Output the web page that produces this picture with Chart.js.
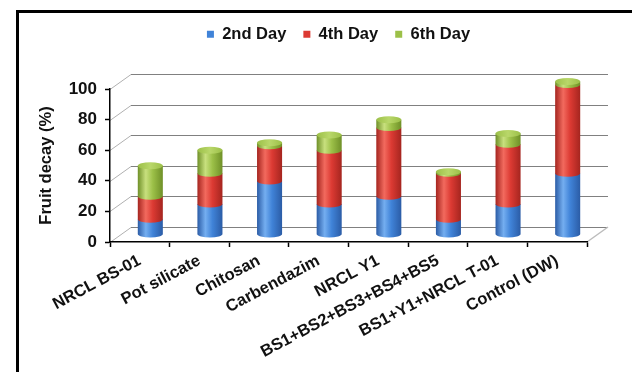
<!DOCTYPE html>
<html>
<head>
<meta charset="utf-8">
<script src="https://cdn.jsdelivr.net/npm/chart.js@4/dist/chart.umd.min.js"></script>
<style>
  html, body { margin: 0; padding: 0; background: #fff; }
  #wrap { position: relative; width: 632px; height: 372px; overflow: hidden; background: #fff; }
  #frame { position: absolute; left: 16px; top: 10px; width: 700px; height: 420px;
           border-left: 3px solid #000; border-top: 3px solid #000; box-sizing: border-box; }
  canvas { position: absolute; left: 0; top: 0; }
</style>
</head>
<body>
<div id="wrap">
  <div id="frame"></div>
  <canvas id="chart" width="632" height="372"></canvas>
</div>
<script>
// Fruit decay (%) per treatment, stacked by day of observation
const categories = ['NRCL BS-01', 'Pot silicate', 'Chitosan', 'Carbendazim', 'NRCL Y1',
                    'BS1+BS2+BS3+BS4+BS5', 'BS1+Y1+NRCL T-01', 'Control (DW)'];
const day2 = [10, 20, 35, 20, 25, 10, 20, 40];
const day4 = [15, 20, 23, 35, 45, 30, 39, 58];
const day6 = [20, 15, 2, 10, 5, 1, 7, 2];
const seriesNames = ['2nd Day', '4th Day', '6th Day'];
const yTicks = [0, 20, 40, 60, 80, 100];

// Cylinder shading: edge, highlight, body, cap
const shades = [
  { edge: '#2b5ca6', light: '#74aef0', body: '#4083d8', cap: '#6ea2e6' },
  { edge: '#a5251f', light: '#f26a5e', body: '#dc3a33', cap: '#e86a60' },
  { edge: '#6f9028', light: '#c8e07e', body: '#9cc048', cap: '#b9d76a' }
];

// Depth offset of the back wall relative to the front axes
const DEPTH_X = 21;
const DEPTH_Y = -15;

const FONT = '"Liberation Sans", Arial, sans-serif';

const wallPlugin = {
  id: 'wall',
  beforeDraw(chart) {
    const { ctx, chartArea } = chart;
    const ys = chart.scales.y;
    const left = chartArea.left, right = chartArea.right;
    ctx.save();
    ctx.lineWidth = 1;
    yTicks.forEach(v => {
      const y = Math.round(ys.getPixelForValue(v)) + 0.5;
      ctx.strokeStyle = '#b0b0b0';
      ctx.beginPath();
      ctx.moveTo(left, y);
      ctx.lineTo(left + DEPTH_X, y + DEPTH_Y);
      ctx.stroke();
      ctx.strokeStyle = '#808080';
      ctx.beginPath();
      ctx.moveTo(left + DEPTH_X, y + DEPTH_Y);
      ctx.lineTo(right + DEPTH_X, y + DEPTH_Y);
      ctx.stroke();
    });
    // right edge of the floor
    const y0 = ys.getPixelForValue(0);
    ctx.strokeStyle = '#bcbcbc';
    ctx.lineWidth = 1.5;
    ctx.beginPath();
    ctx.moveTo(right, y0);
    ctx.lineTo(right + DEPTH_X, y0 + DEPTH_Y);
    ctx.stroke();
    ctx.restore();
  }
};

const cylinderPlugin = {
  id: 'cylinders',
  beforeDatasetDraw() { return false; },
  afterDatasetsDraw(chart) {
    const ctx = chart.ctx;
    const metas = chart.data.datasets.map((d, i) => chart.getDatasetMeta(i));
    ctx.save();
    ctx.translate(DEPTH_X / 2, DEPTH_Y / 2);
    for (let j = 0; j < chart.data.labels.length; j++) {
      let top = null;
      metas.forEach((meta, i) => {
        const el = meta.data[j];
        const { x, y, base, width } = el.getProps(['x', 'y', 'base', 'width'], true);
        if (Math.abs(base - y) < 0.01) return;
        const s = shades[i];
        const xl = x - width / 2, xr = x + width / 2, ry = width * 0.14;
        const g = ctx.createLinearGradient(xl, 0, xr, 0);
        g.addColorStop(0, s.edge);
        g.addColorStop(0.32, s.light);
        g.addColorStop(0.6, s.body);
        g.addColorStop(1, s.edge);
        ctx.fillStyle = g;
        ctx.beginPath();
        ctx.moveTo(xl, y);
        ctx.lineTo(xl, base);
        ctx.ellipse(x, base, width / 2, ry, 0, Math.PI, 0, true);
        ctx.lineTo(xr, y);
        ctx.closePath();
        ctx.fill();
        top = { x, y, width, ry, s };
      });
      if (top) {
        const g = ctx.createLinearGradient(top.x - top.width / 2, 0, top.x + top.width / 2, 0);
        g.addColorStop(0, top.s.body);
        g.addColorStop(0.5, top.s.cap);
        g.addColorStop(1, top.s.body);
        ctx.fillStyle = g;
        ctx.beginPath();
        ctx.ellipse(top.x, top.y, top.width / 2, top.ry, 0, 0, Math.PI * 2);
        ctx.fill();
      }
    }
    ctx.restore();
  }
};

// Legend band: fixed height so the plot starts at the same place, row nudged right
const LEGEND_BAND = 80;
const legendPlacement = {
  id: 'legendPlacement',
  beforeLayout(chart) {
    const lg = chart.legend;
    if (lg && !lg._bandPatched) {
      const fit = lg.fit;
      lg.fit = function () { fit.call(this); this.height = LEGEND_BAND; };
      lg._bandPatched = true;
    }
  },
  afterLayout(chart) {
    if (chart.legend) chart.legend.left += 60;
  }
};

const datasets = [day2, day4, day6].map((values, i) => ({
  label: seriesNames[i],
  data: values,
  backgroundColor: shades[i].body,
  borderWidth: 0,
  barPercentage: 0.42,
  categoryPercentage: 1
}));

new Chart(document.getElementById('chart'), {
  type: 'bar',
  data: { labels: categories, datasets },
  plugins: [wallPlugin, cylinderPlugin, legendPlacement],
  options: {
    responsive: false,
    animation: false,
    events: [],
    layout: { padding: { left: 30, right: 45, top: 9, bottom: 0 } },
    plugins: {
      tooltip: { enabled: false },
      legend: {
        position: 'top',
        labels: {
          boxWidth: 7, boxHeight: 7, padding: 17,
          color: '#111',
          font: { family: FONT, size: 16.5, weight: 'bold' }
        }
      }
    },
    scales: {
      x: {
        stacked: true,
        afterFit(scale) { scale.height = 130; },
        grid: { offset: true, drawOnChartArea: false, drawTicks: true, tickLength: 5, tickColor: '#000', tickWidth: 1.5 },
        border: { display: true, color: '#000', width: 1.5 },
        ticks: {
          autoSkip: false, minRotation: 28, maxRotation: 28, padding: 4,
          color: '#111',
          font: { family: FONT, size: 16.5, weight: 'bold' }
        }
      },
      y: {
        stacked: true,
        min: 0, max: 100,
        afterFit(scale) { scale.width = 80; },
        afterBuildTicks(scale) { scale.ticks = yTicks.map(v => ({ value: v })); },
        grid: { drawOnChartArea: false, drawTicks: true, tickLength: 5, tickColor: '#000', tickWidth: 1.5 },
        border: { display: true, color: '#000', width: 1.5 },
        ticks: {
          padding: 8,
          color: '#111',
          font: { family: FONT, size: 17, weight: 'bold' }
        },
        title: {
          display: true,
          text: 'Fruit decay (%)',
          color: '#111',
          padding: { top: 7, bottom: 0 },
          font: { family: FONT, size: 16.5, weight: 'bold' }
        }
      }
    }
  }
});
</script>
</body>
</html>
